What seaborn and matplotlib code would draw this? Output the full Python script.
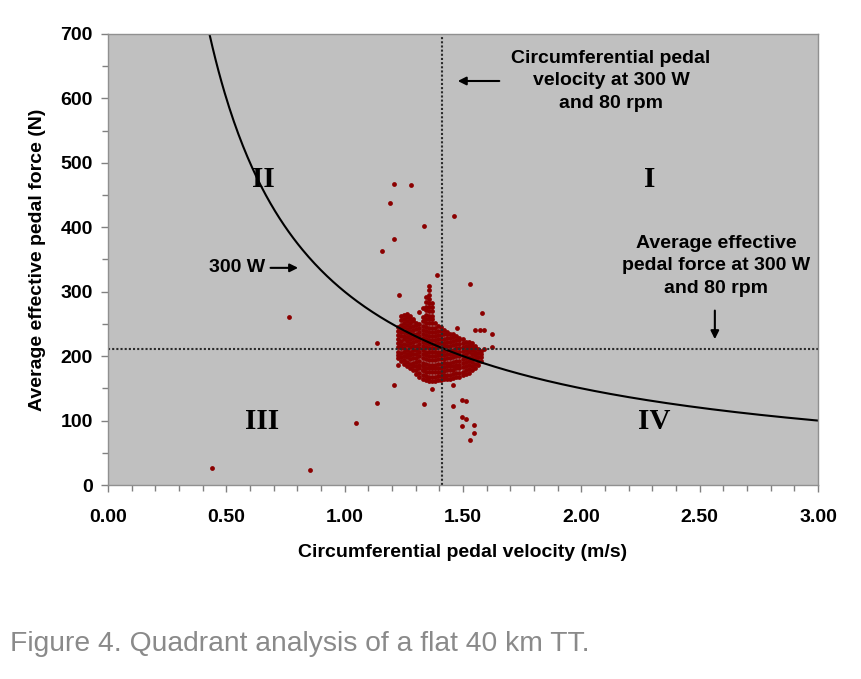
import numpy as np
import pandas as pd
import matplotlib
matplotlib.use("Agg")
import matplotlib.pyplot as plt
from matplotlib.ticker import MultipleLocator, FormatStrFormatter
import seaborn as sns

# 300 W at 80 rpm reference values
POWER_W = 300
CPV_REF = 1.41   # m/s
AEPF_REF = 211   # N

# dense core of the cloud, one column of samples per velocity bin
cluster_v = [1.225, 1.238, 1.251, 1.264, 1.277, 1.290, 1.303, 1.316, 1.329, 1.342,
             1.355, 1.368, 1.381, 1.394, 1.407, 1.420, 1.433, 1.446, 1.459, 1.472,
             1.485, 1.498, 1.511, 1.524, 1.537, 1.550, 1.563, 1.576]
cluster_f = [
    [201, 207, 214, 220, 226, 233, 239, 245],
    [193, 199, 205, 212, 218, 224, 231, 237, 243, 249, 256, 262],
    [188, 194, 200, 207, 213, 219, 226, 232, 238, 245, 251, 257, 264],
    [185, 191, 198, 204, 210, 217, 223, 229, 236, 242, 248, 255, 261, 266],
    [182, 188, 195, 201, 207, 214, 220, 226, 233, 239, 245, 252, 258, 262],
    [178, 184, 190, 197, 203, 209, 216, 222, 228, 235, 241, 247, 254, 258],
    [172, 178, 185, 191, 197, 204, 210, 216, 223, 229, 235, 242, 248, 252],
    [168, 174, 181, 187, 193, 200, 206, 212, 219, 225, 231, 238, 244, 250, 268],
    [165, 171, 178, 184, 190, 197, 203, 209, 216, 222, 228, 235, 241, 247, 254, 260, 275],
    [163, 169, 176, 182, 188, 195, 201, 207, 214, 220, 226, 233, 239, 245, 252, 258,
     264, 271, 277, 284, 291],
    [162, 168, 175, 181, 187, 194, 200, 206, 213, 219, 225, 232, 238, 244, 251, 257,
     263, 270, 276, 282, 289, 295, 302, 309],
    [162, 168, 175, 181, 187, 194, 200, 206, 213, 219, 225, 232, 238, 244, 251, 257,
     263, 270, 276, 283],
    [162, 168, 175, 181, 187, 194, 200, 206, 213, 219, 225, 232, 238, 244, 251],
    [163, 169, 176, 182, 188, 195, 201, 207, 214, 220, 226, 233, 239, 246],
    [163, 169, 176, 182, 188, 195, 201, 207, 214, 220, 226, 233, 239, 245],
    [164, 170, 177, 183, 189, 196, 202, 208, 215, 221, 227, 234, 240],
    [165, 171, 178, 184, 190, 197, 203, 209, 216, 222, 228, 235, 238],
    [165, 171, 178, 184, 190, 197, 203, 209, 216, 222, 228, 235],
    [166, 172, 179, 185, 191, 198, 204, 210, 217, 223, 229, 234],
    [168, 174, 181, 187, 193, 200, 206, 212, 219, 225, 231],
    [168, 174, 181, 187, 193, 200, 206, 212, 219, 225, 228],
    [170, 176, 183, 189, 195, 202, 208, 214, 221, 226],
    [172, 178, 185, 191, 197, 204, 210, 216, 222],
    [174, 180, 187, 193, 199, 206, 212, 218, 222],
    [178, 184, 191, 197, 203, 210, 216, 220],
    [182, 188, 195, 201, 207, 213, 216],
    [186, 192, 199, 205, 211],
    [192, 198, 204, 208],
]

# scattered samples outside the core
outlier_v = [0.44, 0.853, 0.765, 1.048, 1.136, 1.136, 1.158, 1.191, 1.208, 1.280,
             1.208, 1.335, 1.462, 1.390, 1.529, 1.229, 1.580, 1.622, 1.622, 1.369,
             1.335, 1.458, 1.496, 1.512, 1.496, 1.512, 1.496, 1.546, 1.546, 1.529,
             1.458, 1.352, 1.424, 1.208, 1.225, 1.225, 1.331, 1.550, 1.570, 1.590,
             1.475, 1.590]
outlier_f = [26, 23, 261, 96, 127, 220, 363, 438, 467, 466,
             382, 402, 418, 326, 312, 295, 267, 234, 214, 149,
             126, 123, 132, 130, 106, 102, 92, 93, 81, 70,
             155, 165, 166, 155, 197, 186, 178, 241, 241, 241,
             244, 211]

cpv = [v for v, col in zip(cluster_v, cluster_f) for _ in col] + outlier_v
aepf = [f for col in cluster_f for f in col] + outlier_f
samples = pd.DataFrame({"cpv": cpv, "aepf": aepf})

# isopower line F = P / v
v_line = np.linspace(POWER_W / 700, 3.0, 400)
iso = pd.DataFrame({"v": v_line, "f": POWER_W / v_line})

sns.set_theme(style="ticks")
plt.rcParams["font.family"] = ["Liberation Sans", "DejaVu Sans"]
plt.rcParams["text.color"] = "black"
plt.rcParams["axes.labelcolor"] = "black"
plt.rcParams["xtick.labelcolor"] = "black"
plt.rcParams["ytick.labelcolor"] = "black"

fig = plt.figure(figsize=(8.62, 6.79), dpi=100)
ax = fig.add_axes([0.1253, 0.2857, 0.8237, 0.6643])
ax.set_facecolor("#c0c0c0")

sns.lineplot(data=iso, x="v", y="f", ax=ax, color="black", linewidth=1.5)
ax.axvline(CPV_REF, color="#2a2a2a", linestyle=(0, (1, 1)), linewidth=1.5)
ax.axhline(AEPF_REF, color="#2a2a2a", linestyle=(0, (1, 1)), linewidth=1.5)
sns.scatterplot(data=samples, x="cpv", y="aepf", ax=ax, color="#8b0000",
                s=12, linewidth=0, marker="o")

ax.set_xlim(0, 3.0)
ax.set_ylim(0, 700)
ax.xaxis.set_major_locator(MultipleLocator(0.5))
ax.xaxis.set_minor_locator(MultipleLocator(0.1))
ax.xaxis.set_major_formatter(FormatStrFormatter("%.2f"))
ax.yaxis.set_major_locator(MultipleLocator(100))
ax.yaxis.set_minor_locator(MultipleLocator(50))
ax.tick_params(which="major", length=5, width=1, color="#808080", labelsize=14)
ax.tick_params(axis="x", which="major", pad=12.5)
ax.tick_params(axis="y", which="major", pad=6)
ax.tick_params(which="minor", length=4, width=1, color="#808080")
for lab in ax.get_xticklabels() + ax.get_yticklabels():
    lab.set_fontweight("bold")
for sp in ax.spines.values():
    sp.set_visible(True)
    sp.set_color("#909090")
    sp.set_linewidth(1)

ax.set_xlabel("Circumferential pedal velocity (m/s)", fontsize=14, fontweight="bold", labelpad=13)
ax.set_ylabel("Average effective pedal force (N)", fontsize=14, fontweight="bold", labelpad=10)

# quadrant numerals
roman = dict(fontsize=21, fontweight="bold", family="Liberation Serif",
             ha="center", va="center")
ax.text(2.29, 474, "I", **roman)
ax.text(0.655, 474, "II", **roman)
ax.text(0.65, 98, "III", **roman)
ax.text(2.31, 98, "IV", **roman)

note = dict(fontsize=14, fontweight="bold", ha="center", va="center", linespacing=1.45)
ax.text(2.125, 627, "Circumferential pedal\nvelocity at 300 W\nand 80 rpm", **note)
ax.annotate("", xy=(1.466, 627), xytext=(1.665, 627),
            arrowprops=dict(arrowstyle="-|>", color="black", lw=1.5, mutation_scale=12))
ax.text(2.57, 340, "Average effective\npedal force at 300 W\nand 80 rpm", **note)
ax.annotate("", xy=(2.564, 222), xytext=(2.564, 275),
            arrowprops=dict(arrowstyle="-|>", color="black", lw=1.5, mutation_scale=12))
ax.text(0.665, 337, "300 W", fontsize=14, fontweight="bold", ha="right", va="center")
ax.annotate("", xy=(0.815, 337), xytext=(0.675, 337),
            arrowprops=dict(arrowstyle="-|>", color="black", lw=1.5, mutation_scale=12))

fig.text(0.012, 0.052, "Figure 4. Quadrant analysis of a flat 40 km TT.",
         fontsize=20.3, color="#8a8a8a", ha="left", va="center")

fig.savefig("out.png", dpi=100)
plt.close(fig)
